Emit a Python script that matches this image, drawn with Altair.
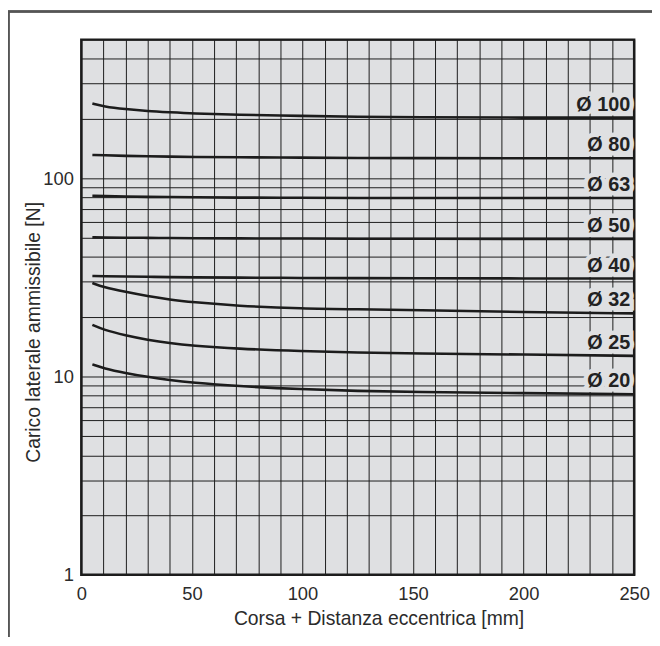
import altair as alt
import pandas as pd

# ---- data ----
diameters = ["Ø 100", "Ø 80", "Ø 63", "Ø 50", "Ø 40", "Ø 32", "Ø 25", "Ø 20"]
x_mm = [5, 10, 20, 30, 40, 50, 70, 100, 125, 150, 200, 250]

load_100 = [238, 230, 223, 218, 215, 212, 209, 206, 204, 203, 202, 202]
load_80 = [131, 130.5, 129.5, 129, 128.5, 128, 127.5, 127, 126.5, 126.3, 126, 126]
load_63 = [81.5, 81.2, 80.8, 80.5, 80.3, 80.1, 79.8, 79.6, 79.5, 79.5, 79.4, 79.4]
load_50 = [50.3, 50.2, 50.1, 50.0, 49.9, 49.8, 49.7, 49.6, 49.5, 49.5, 49.4, 49.4]
load_40 = [32.1, 32.0, 31.9, 31.8, 31.7, 31.6, 31.5, 31.4, 31.3, 31.3, 31.2, 31.2]
load_32 = [29.6, 28.2, 26.7, 25.4, 24.4, 23.7, 22.7, 22.0, 21.8, 21.6, 21.1, 20.8]
load_25 = [18.2, 17.2, 16.1, 15.3, 14.7, 14.3, 13.8, 13.4, 13.2, 13.05, 12.9, 12.7]
load_20 = [11.5, 11.0, 10.4, 9.94, 9.58, 9.3, 8.94, 8.61, 8.44, 8.36, 8.23, 8.13]

series = [load_100, load_80, load_63, load_50, load_40, load_32, load_25, load_20]

x_grid = list(range(0, 251, 10))
y_grid = [1, 2, 3, 4, 5, 6, 7, 8, 9, 10, 20, 30, 40, 50, 60, 70, 80, 90,
          100, 200, 300, 400, 500]

x_title = "Corsa + Distanza eccentrica [mm]"
y_title = "Carico laterale ammissibile [N]"

# ---- tables ----
rows = []
for name, vals in zip(diameters, series):
    for xv, yv in zip(x_mm, vals):
        rows.append({"d": name, "x": xv, "y": yv})
curves = pd.DataFrame(rows)
labels = pd.DataFrame({"d": diameters, "x": [x_mm[-1]] * len(diameters),
                       "y": [v[-1] for v in series]})

BG = "#dfe0e2"
INK = "#1c1c1c"
TXT = "#2b2b2b"
FONT = "Liberation Sans"

x_enc = alt.X("x:Q",
              scale=alt.Scale(domain=[0, 250], nice=False, zero=False),
              axis=alt.Axis(values=x_grid, title=x_title,
                            labelExpr="datum.value % 50 == 0 ? datum.label : ''",
                            labelFlush=False, labelOverlap=False,
                            labelPadding=10, titleX=300, titleY=50,
                            titleBaseline="alphabetic", titleAlign="center"))
y_enc = alt.Y("y:Q",
              scale=alt.Scale(type="log", domain=[1, 500], nice=False),
              axis=alt.Axis(values=y_grid, title=y_title,
                            labelExpr="(datum.value == 1 || datum.value == 10 || datum.value == 100) ? format(datum.value, 'd') : ''",
                            labelFlush=False, labelOverlap=False,
                            labelPadding=8, titleX=-48, titleY=295,
                            titleBaseline="middle", titleAlign="center",
                            titleAngle=270))

lines = alt.Chart(curves).mark_line(
    color=INK, strokeWidth=2.6, interpolate="basis"
).encode(x=x_enc, y=y_enc, detail="d:N")

halo = alt.Chart(labels).mark_text(
    align="right", baseline="alphabetic", dx=-4, dy=-7,
    font=FONT, fontSize=20, fontWeight="bold",
    fill=BG, stroke=BG, strokeWidth=9
).encode(x=x_enc, y=y_enc, text="d:N")

texts = alt.Chart(labels).mark_text(
    align="right", baseline="alphabetic", dx=-4, dy=-7,
    font=FONT, fontSize=20, fontWeight="bold", color="#222222"
).encode(x=x_enc, y=y_enc, text="d:N")

frame_top = alt.Chart(labels).mark_rule(color="#555555", strokeWidth=1.5).encode(
    x=alt.value(-74), x2=alt.value(600), y=alt.value(-28.5))
frame_left = alt.Chart(labels).mark_rule(color="#555555", strokeWidth=1.5).encode(
    x=alt.value(-73.5), y=alt.value(-29), y2=alt.value(620))

chart = alt.layer(halo, lines, texts, frame_top, frame_left).properties(
    width=558, height=540,
    autosize=alt.AutoSizeParams(type="none"),
    padding={"left": 74, "top": 29, "right": 18, "bottom": 60},
    background="white",
).configure_view(
    fill=BG, stroke=INK, strokeWidth=2.5
).configure_axis(
    labelFont=FONT, labelFontSize=18.5, labelColor=TXT,
    titleFont=FONT, titleFontSize=19.5, titleFontWeight="normal", titleColor=TXT,
    domain=False, ticks=False, tickSize=0,
    grid=True, gridColor=INK, gridWidth=1, gridOpacity=1,
)

chart.save("out.html", embed_options={"renderer": "svg", "actions": False})
